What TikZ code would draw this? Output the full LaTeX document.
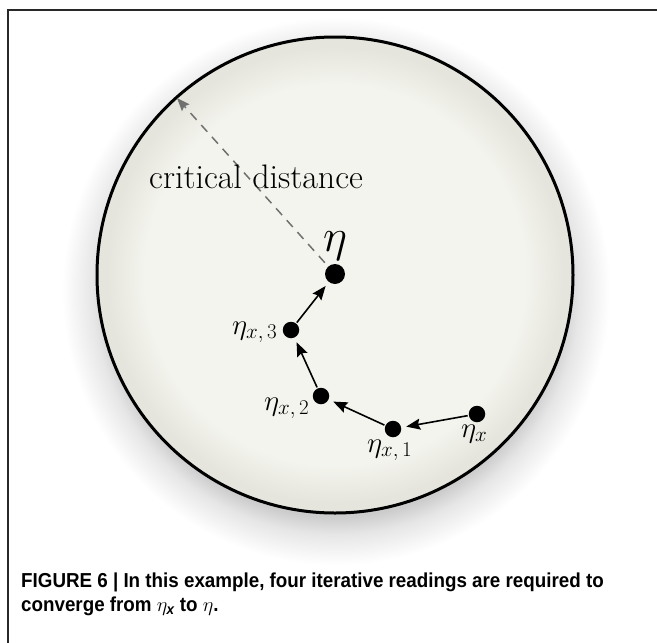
\RequirePackage{fix-cm}
\documentclass[tikz,border=0pt]{standalone}
\usepackage{fontspec}
\usepackage{amsmath}
\newfontfamily\capfont{Liberation Sans}[FakeStretch=0.93]
\usetikzlibrary{arrows.meta}
\DeclareMathSizes{29}{29}{21}{15}
\DeclareMathSizes{46}{46}{32}{23}
\DeclareMathSizes{20.2}{20.2}{14.5}{10}
\definecolor{discin}{RGB}{244,244,238}
\definecolor{discout}{RGB}{229,229,221}
\definecolor{shadowc}{RGB}{204,204,204}
\definecolor{shadowm}{RGB}{230,230,230}
\definecolor{dashc}{RGB}{112,112,112}
\definecolor{framec}{RGB}{40,40,40}
\pgfdeclareradialshading{discshade}{\pgfpoint{0bp}{0bp}}{%
  color(0bp)=(discin); color(20bp)=(discin); color(24bp)=(discout); color(25bp)=(discout); color(50bp)=(discout)}
\pgfdeclareradialshading{shadowshade}{\pgfpoint{0bp}{0bp}}{%
  color(0bp)=(shadowc); color(20.6bp)=(shadowc); color(22.2bp)=(shadowm); color(25bp)=(white); color(50bp)=(white)}
\tikzset{
  dot/.style={circle, fill=black, inner sep=0pt, minimum size=16.5pt},
  bigdot/.style={circle, fill=black, inner sep=0pt, minimum size=20pt},
  lab/.style={inner sep=0pt, anchor=base west, font=\fontsize{29}{33}\selectfont},
  steparrow/.style={line width=1.6pt, -{Stealth[length=14pt,width=11pt,inset=2pt]}, shorten >=5pt, shorten <=1pt},
  radiusarrow/.style={dashc, line width=1.5pt, dash pattern=on 9pt off 7pt, -{Stealth[length=13pt,width=10pt,inset=2pt]}, shorten <=5pt},
  captxt/.style={inner sep=0pt, anchor=base west, font=\capfont\bfseries\fontsize{20.2}{24}\selectfont}
}
\begin{document}
\begin{tikzpicture}[x=1pt,y=-1pt]
\useasboundingbox (0,0) rectangle (657,643);
\fill[white] (0,0) rectangle (657,643);
% frame
\draw[framec, line width=1.2pt] (8,643) -- (8,10) -- (657,10);
% shadow
\shade[shading=shadowshade] (336,291) circle[radius=274];
% disc
\shade[shading=discshade] (335,275) circle[radius=238];
\draw[line width=3pt] (335,275) circle[radius=238];
% points
\node[bigdot] (eta) at (335,274) {};
\node[dot] (e3) at (291,330) {};
\node[dot] (e2) at (321,396) {};
\node[dot] (e1) at (393,429) {};
\node[dot] (ex) at (477,414) {};
\coordinate (rim) at (177,98);
% dashed radius
\draw[radiusarrow] (eta) -- (rim);
\node[inner sep=0pt, anchor=base west, font=\fontsize{34}{38}\selectfont] (cd) at (149,188) {critical distance};
% labels
\node[inner sep=0pt, anchor=base west, font=\fontsize{46}{50}\selectfont] (etalab) at (323,251) {$\eta$};
\node[lab] (l3) at (232,334) {$\eta_{x,\,3}$};
\node[lab] (l2) at (264,410) {$\eta_{x,\,2}$};
\node[lab] (l1) at (367,452) {$\eta_{x,\,1}$};
\node[lab] (lx) at (461,437) {$\eta_{x}$};
% arrows
\draw[steparrow] (ex) -- (e1);
\draw[steparrow] (e1) -- (e2);
\draw[steparrow] (e2) -- (e3);
\draw[steparrow] (e3) -- (eta);
% caption
\node[captxt] (cap1) at (21,587) {FIGURE 6 | In this example, four iterative readings are required to};
\node[captxt] (cap2) at (21,611) {converge from $\eta_{\mbox{\capfont\bfseries\itshape\fontsize{14.5}{16}\selectfont x}}$ to $\eta$.};
\end{tikzpicture}
\end{document}
